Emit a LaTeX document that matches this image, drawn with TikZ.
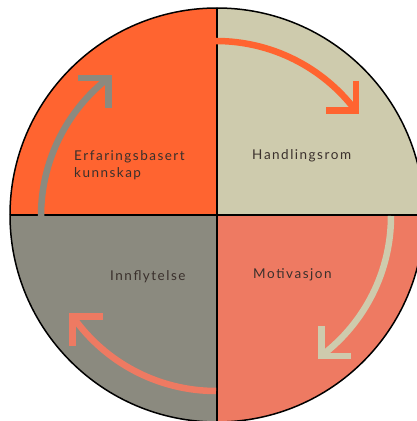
\documentclass[tikz,border=0pt]{standalone}
\usepackage{fontspec}
\setmainfont{Lato}[LetterSpace=11, Kerning=Off]
\definecolor{qorange}{HTML}{FF6430}
\definecolor{qbeige}{HTML}{CECBAD}
\definecolor{qsalmon}{HTML}{EE7A62}
\definecolor{qgrey}{HTML}{8B8A7F}
\definecolor{txt}{HTML}{3A302C}
\begin{document}
\begin{tikzpicture}[x=1pt,y=1pt,
  lbl/.style={inner sep=0pt, text=txt, font=\fontsize{13.5}{17}\selectfont},
  cyc/.style={line width=6.5pt, line join=miter, miter limit=10}]
\useasboundingbox (0,0) rectangle (416,421);
\coordinate (C) at (217,206);
\coordinate (A) at (216,205);
\begin{scope}
  \clip (C) circle[radius=207];
  \fill[qorange] (C) rectangle (-10,430);
  \fill[qbeige]  (C) rectangle (430,430);
  \fill[qsalmon] (C) rectangle (430,-10);
  \fill[qgrey]   (C) rectangle (-10,-10);
  \draw[line width=1.2pt] (217,-10) -- (217,430);
  \draw[line width=1.2pt] (-10,206) -- (430,206);
\end{scope}
\draw[line width=1.5pt] (C) circle[radius=207];
% arrows
\draw[cyc, qorange] (A) ++(90:175) coordinate (t0) arc[start angle=90, end angle=37, radius=175] coordinate (t1);
\draw[cyc, qorange] (t1) ++(0,30) -- (t1) -- ++(-30,0);
\draw[cyc, qbeige] (A) ++(0:175) coordinate (r0) arc[start angle=0, end angle=-53, radius=175] coordinate (r1);
\draw[cyc, qbeige] (r1) ++(0,30) -- (r1) -- ++(30,0);
\draw[cyc, qsalmon] (A) ++(-90:175) coordinate (b0) arc[start angle=-90, end angle=-145, radius=175] coordinate (b1);
\draw[cyc, qsalmon] (b1) ++(30,0) -- (b1) -- ++(0,-30);
\draw[cyc, qgrey] (A) ++(180:175) coordinate (l0) arc[start angle=180, end angle=128, radius=175] coordinate (l1);
\draw[cyc, qgrey] (l1) ++(-30,0) -- (l1) -- ++(0,-30);
% labels
\node[lbl, anchor=north west, align=left] (erf) at (74,271) {Erfaringsbasert\\kunnskap};
\node[lbl, anchor=base west] (han) at (252,261) {Handlingsrom};
\node[lbl, anchor=base west] (inn) at (110,140) {Innflytelse};
\node[lbl, anchor=base west] (mot) at (253,142) {Motivasjon};
\end{tikzpicture}
\end{document}
